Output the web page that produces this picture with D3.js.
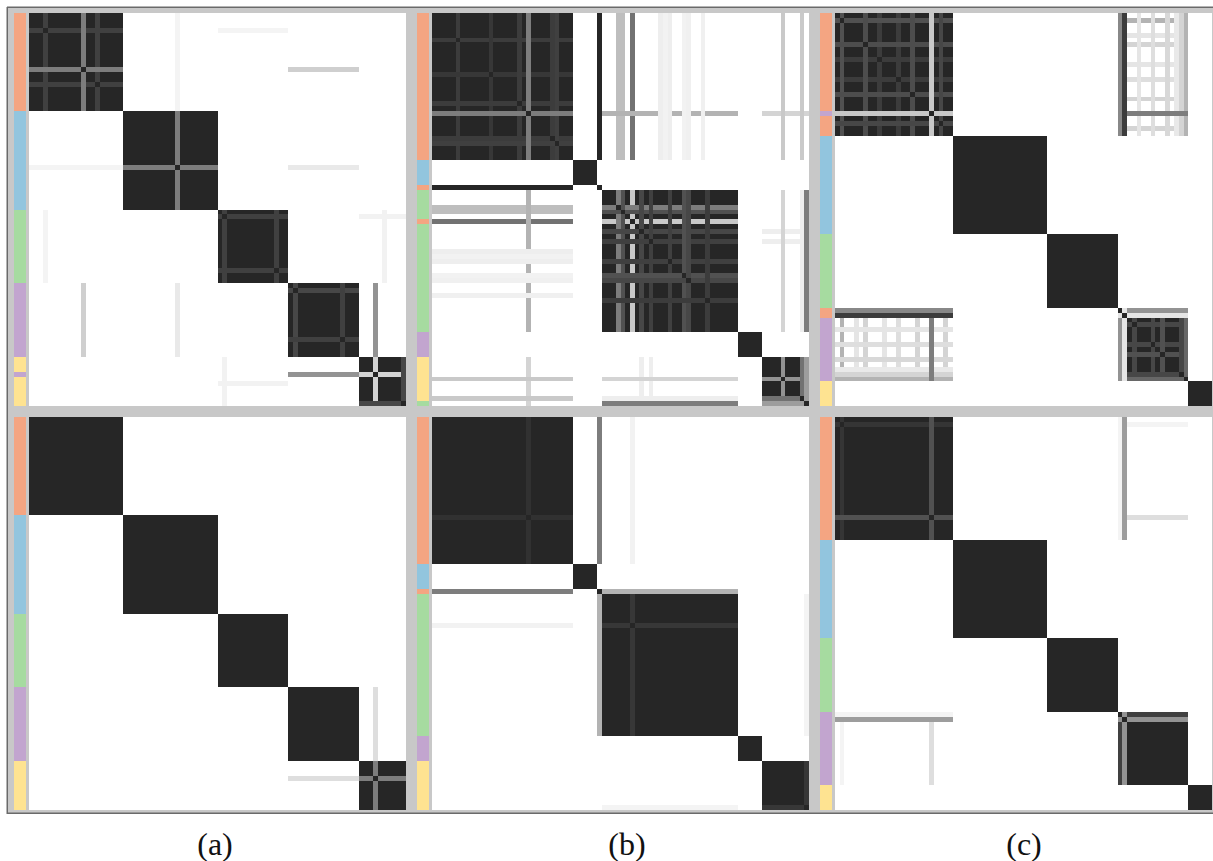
<!DOCTYPE html>
<html>
<head>
<meta charset="utf-8">
<script src="https://cdn.jsdelivr.net/npm/d3@7"></script>
<style>
  body { margin: 0; background: #fff; }
  svg { display: block; }
</style>
</head>
<body>
<div id="chart"></div>
<script>
// affinity matrices, 80 samples each, rows ordered by predicted cluster
const N = 80

const classColors = ["#f4a582", "#92c5de", "#a6dba0", "#c2a5cf", "#fee391"]
const captions = ["(a)", "(b)", "(c)"]

// true labels, run length encoded: [class, count]
const labelsATop = [[0,20],[1,20],[2,15],[3,15],[4,3],[3,1],[4,6]]
const labelsBTop = [[0,30],[1,5],[0,1],[2,6],[0,1],[2,22],[3,5],[4,9],[2,1]]
const labelsCTop = [[0,20],[3,1],[0,4],[1,20],[2,15],[0,2],[3,13],[4,5]]
const labelsABot = [[0,20],[1,20],[2,15],[3,15],[4,10]]
const labelsBBot = [[0,30],[1,5],[0,1],[2,29],[3,5],[4,10]]
const labelsCBot = [[0,25],[1,20],[2,15],[3,15],[4,5]]

// predicted cluster sizes (diagonal blocks)
const blocksATop = [20,20,15,15,10]
const blocksBTop = [30,5,1,29,5,10]
const blocksCTop = [25,20,15,15,5]
const blocksABot = [20,20,15,15,10]
const blocksBBot = [30,5,1,29,5,10]
const blocksCBot = [25,20,15,15,5]

// [sample, cluster, affinity of that sample to the cluster]
const stripesATop = [
    [3,0,0.88],[14,0,0.88],[11,0,0.6],[11,3,0.22],[3,2,0.05],
    [31,1,0.6],[31,0,0.05],[31,3,0.1],[41,2,0.88],[52,2,0.88],[41,4,0.06],
    [56,3,0.85],[66,3,0.88],[73,4,0.2],[73,3,0.5],[79,4,0.85],[75,2,0.06]
]
const stripesBTop = [
    [5,0,0.9],[12,0,0.92],[18,0,0.9],[25,0,0.9],[26,0,0.88],
    [35,0,1],[42,0,0.65],[42,3,0.25],[39,0,0.3],[39,3,0.6],[40,0,0.3],[40,3,0.8],
    [20,0,0.6],[20,3,0.35],[20,5,0.2],
    [48,0,0.08],[50,0,0.08],[54,0,0.07],[57,0,0.07],[49,0,0.06],[53,0,0.06],
    [44,3,0.85],[46,3,0.88],[50,3,0.88],[53,3,0.8],[54,3,0.85],[58,3,0.9],
    [44,5,0.08],[46,5,0.08],
    [74,5,0.5],[74,0,0.25],[74,3,0.2],[78,0,0.25],[78,5,0.65],[78,3,0.08],
    [79,5,0.45],[79,3,0.6]
]
const stripesCTop = [
    [9,0,0.9],[13,0,0.9],[1,0,0.8],[6,0,0.82],[16,0,0.82],[22,0,0.85],
    [1,3,0.35],[4,3,0.12],[6,3,0.2],[10,3,0.12],[13,3,0.15],[17,3,0.2],[23,3,0.2],
    [64,0,0.12],[67,0,0.15],[70,0,0.18],[72,0,0.1],[73,0,0.2],[74,0,0.35],
    [63,3,0.85],[67,3,0.85],[69,3,0.8],[73,3,0.85],[74,3,0.7],
    [20,0,0.25],[20,3,0.6],[60,0,0.55],[60,3,0.5],[61,0,0.9],[61,3,0.12]
]
const stripesABot = [[73,4,0.6],[73,3,0.15]]
const stripesBBot = [
    [20,0,0.95],[35,0,0.6],[35,3,0.35],[42,3,0.92],[42,0,0.06],[79,5,0.92],[79,3,0.05]
]
const stripesCBot = [
    [1,0,0.93],[1,3,0.05],[20,0,0.8],[20,3,0.15],[60,3,0.88],[60,0,0.05],[61,3,0.5],[61,0,0.45]
]

const panels = [
    {labels: labelsATop, blocks: blocksATop, stripes: stripesATop, col: 0, row: 0},
    {labels: labelsBTop, blocks: blocksBTop, stripes: stripesBTop, col: 1, row: 0},
    {labels: labelsCTop, blocks: blocksCTop, stripes: stripesCTop, col: 2, row: 0},
    {labels: labelsABot, blocks: blocksABot, stripes: stripesABot, col: 0, row: 1},
    {labels: labelsBBot, blocks: blocksBBot, stripes: stripesBBot, col: 1, row: 1},
    {labels: labelsCBot, blocks: blocksCBot, stripes: stripesCBot, col: 2, row: 1}
]

const expandRuns = runs => runs.flatMap(([cls, count]) => d3.range(count).map(() => cls))

const buildCells = (blocks, stripes) => {

    const owner = blocks.flatMap((size, k) => d3.range(size).map(() => k))
    let m = owner.map(a => owner.map(b => a === b ? 1 : 0))

    stripes.forEach(([item, k, v]) => owner.forEach((o, j) => {
        if (o === k && j !== item) { m[item][j] = v; m[j][item] = v }
    }))

    let cells = []
    m.forEach((row, i) => row.forEach((v, j) => cells.push({i, j, v})))
    return cells
}

const W = 1213, H = 861
const matW = 377, matH = 393
const matX = [29, 432, 835], matY = [13, 417]
const captionX = [215, 627, 1024]

const svg = d3.select("#chart").append("svg")
    .attr("width", W)
    .attr("height", H)

svg.append("rect").attr("width", W).attr("height", H).attr("fill", "#fff")

// grey frame
svg.append("rect")
    .attr("x", 7).attr("y", 7)
    .attr("width", W - 7).attr("height", 806)
    .attr("fill", "#c8c8c8")
svg.append("rect").attr("x", 7).attr("y", 6.5).attr("width", W - 7).attr("height", 1.5).attr("fill", "#6a6a6a")
svg.append("rect").attr("x", 6.5).attr("y", 7).attr("width", 1.5).attr("height", 807).attr("fill", "#6a6a6a")
svg.append("rect").attr("x", 7).attr("y", 812.5).attr("width", W - 7).attr("height", 1.5).attr("fill", "#6a6a6a")

const color = d3.scaleLinear().domain([0, 1]).range(["#ffffff", "#262626"])

const x = d3.scaleBand().domain(d3.range(N)).range([0, matW])
const y = d3.scaleBand().domain(d3.range(N)).range([0, matH])

panels.forEach(p => {

    let g = svg.append("g")
        .attr("transform", "translate(" + matX[p.col] + "," + matY[p.row] + ")")

    g.append("rect")
        .attr("width", matW).attr("height", matH)
        .attr("fill", "#fff")

    g.selectAll(".cell")
        .data(buildCells(p.blocks, p.stripes))
        .enter()
        .append("rect")
        .attr("class", "cell")
        .attr("x", d => x(d.j))
        .attr("y", d => y(d.i))
        .attr("width", x.bandwidth() + 0.4)
        .attr("height", y.bandwidth() + 0.4)
        .attr("fill", d => color(d.v))
        .attr("shape-rendering", "crispEdges")

    // colour bar of true labels
    g.selectAll(".lab")
        .data(expandRuns(p.labels))
        .enter()
        .append("rect")
        .attr("class", "lab")
        .attr("x", -15)
        .attr("y", (d, i) => y(i))
        .attr("width", 12)
        .attr("height", y.bandwidth() + 0.4)
        .attr("fill", d => classColors[d])
        .attr("shape-rendering", "crispEdges")
})

svg.selectAll(".caption")
    .data(captions)
    .enter()
    .append("text")
    .attr("class", "caption")
    .attr("x", (d, i) => captionX[i])
    .attr("y", 855)
    .attr("text-anchor", "middle")
    .attr("font-family", "'Liberation Serif', serif")
    .attr("font-size", "32px")
    .attr("fill", "#111")
    .text(d => d)
</script>
</body>
</html>
